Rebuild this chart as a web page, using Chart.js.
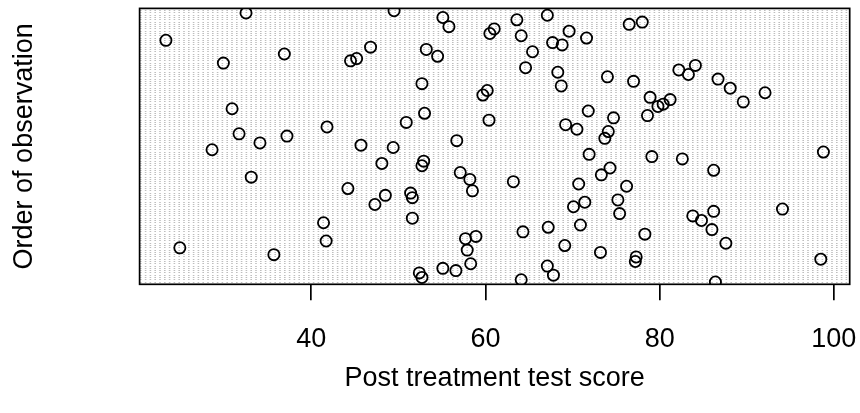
<!DOCTYPE html>
<html>
<head>
<meta charset="utf-8">
<script src="https://cdn.jsdelivr.net/npm/chart.js@4.4.1/dist/chart.umd.min.js"></script>
<style>
  html, body { margin: 0; padding: 0; background: #ffffff; }
  #wrap { width: 860px; height: 413px; }
</style>
</head>
<body>
<div id="wrap"><canvas id="dot" width="860" height="413"></canvas></div>
<script>
// Post treatment test scores, listed in order of observation (1 = bottom row)
const scores = [
  86.4, 64.1, 52.7, 67.8, 52.4, 56.6, 55.1, 67.1, 58.3, 77.2,
  98.5, 77.3, 35.7, 73.2, 57.9, 24.9, 69.1, 87.6, 41.7, 57.7,
  58.9, 78.3, 64.3, 86.0, 67.2, 70.9, 41.4, 84.8, 51.6, 83.8,
  75.4, 86.2, 94.1, 70.1, 47.3, 71.4, 75.2, 51.6, 48.5, 51.4,
  58.5, 44.2, 76.2, 70.7, 63.2, 58.2, 33.1, 73.3, 57.1, 86.2,
  74.3, 52.7, 48.1, 52.9, 82.6, 79.1, 71.9, 98.8, 28.6, 49.4,
  45.7, 34.1, 56.7, 73.7, 37.2, 31.7, 74.1, 70.5, 41.8, 69.2,
  50.9, 60.4, 74.7, 78.6, 53.0, 71.8, 30.9, 79.8, 80.4, 89.6,
  81.2, 78.9, 59.7, 92.1, 60.2, 88.1, 68.7, 52.7, 77.0, 86.7,
  74.0, 83.3, 68.3, 82.2, 64.6, 84.1, 29.9, 44.5, 45.2, 54.5,
  36.9, 65.4, 53.2, 46.8, 68.8, 67.7, 23.3, 71.6, 64.1, 60.5,
  69.6, 61.0, 55.8, 76.5, 78.0, 63.6, 55.1, 67.1, 32.5, 49.5
];

// Observation number of each score
const order = scores.map((_, i) => i + 1);

// Labelled positions on the score axis
const xTicks = [40, 60, 80, 100];

const xLabel = 'Post treatment test score';
const yLabel = 'Order of observation';

// Axis limits: data range widened by 4% on each side; one empty slot above and below the rows
const lo = Math.min(...scores), hi = Math.max(...scores);
const ext = 0.04 * (hi - lo);
const xMin = lo - ext, xMax = hi + ext;
const yMin = 0, yMax = scores.length + 1;

Chart.defaults.font.family = "'Liberation Sans', Arial, Helvetica, sans-serif";
Chart.defaults.color = '#000000';

// Frame around the plotting region
const framePlugin = {
  id: 'frame',
  afterDatasetsDraw(chart) {
    const a = chart.chartArea, c = chart.ctx;
    c.save();
    c.strokeStyle = '#000000';
    c.lineWidth = 1.7;
    c.strokeRect(a.left, a.top, a.right - a.left, a.bottom - a.top);
    c.restore();
  }
};

new Chart(document.getElementById('dot'), {
  type: 'scatter',
  data: {
    datasets: [{
      data: scores.map((s, i) => ({ x: s, y: order[i] })),
      pointStyle: 'circle',
      pointRadius: 5.6,
      pointHoverRadius: 5.6,
      borderWidth: 1.8,
      borderColor: '#000000',
      backgroundColor: 'rgba(0,0,0,0)',
      clip: 0
    }]
  },
  options: {
    responsive: false,
    animation: false,
    devicePixelRatio: 1,
    layout: { padding: { top: 8.4, right: 10.3, bottom: 0, left: 0 } },
    plugins: {
      legend: { display: false },
      tooltip: { enabled: false }
    },
    scales: {
      x: {
        type: 'linear',
        position: 'bottom',
        min: xMin,
        max: xMax,
        afterBuildTicks: s => { s.ticks = xTicks.map(v => ({ value: v })); },
        afterFit: s => { s.height = 128.7; s.paddingLeft = 0; s.paddingRight = 0; },
        border: { display: false },
        grid: {
          display: true,
          drawOnChartArea: false,
          drawTicks: true,
          tickLength: 16,
          color: '#000000',
          lineWidth: 1.7
        },
        ticks: {
          font: { size: 27 },
          padding: 23.5,
          maxRotation: 0,
          autoSkip: false,
          callback: v => String(v)
        },
        title: {
          display: true,
          text: xLabel,
          font: { size: 27 },
          padding: { top: 0, bottom: 17.8 }
        }
      },
      y: {
        type: 'linear',
        position: 'left',
        min: yMin,
        max: yMax,
        afterBuildTicks: s => { s.ticks = order.map(v => ({ value: v })); },
        afterFit: s => { s.width = 139.6; s.paddingTop = 0; s.paddingBottom = 0; },
        // one dotted grey guide line per observation
        border: { display: false, dash: [1.6, 3.2] },
        grid: {
          display: true,
          drawOnChartArea: true,
          drawTicks: false,
          color: '#bebebe',
          lineWidth: 1
        },
        ticks: { display: false },
        title: {
          display: true,
          text: yLabel,
          font: { size: 27 },
          padding: { top: 8.7, bottom: 0 }
        }
      }
    }
  },
  plugins: [framePlugin]
});
</script>
</body>
</html>
